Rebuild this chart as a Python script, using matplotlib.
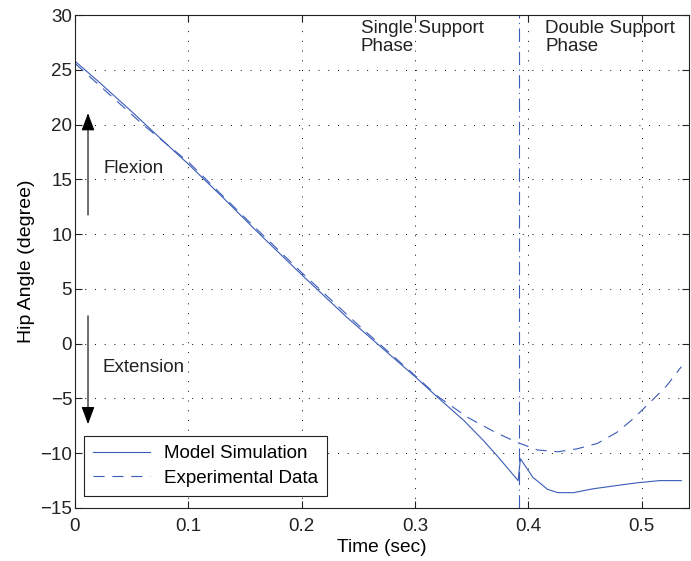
import matplotlib
matplotlib.use("Agg")
import matplotlib.pyplot as plt

plt.rcParams['font.family'] = ['Liberation Sans', 'DejaVu Sans']
plt.rcParams['font.size'] = 13.5

# Model simulation (hip angle, degrees)
t_model = [0.0, 0.02, 0.05, 0.08, 0.10, 0.13, 0.16, 0.20, 0.24, 0.28, 0.30,
           0.32, 0.343, 0.36, 0.373, 0.391, 0.393, 0.404, 0.417, 0.426, 0.44,
           0.457, 0.478, 0.496, 0.516, 0.535]
hip_model = [25.8, 24.0, 21.2, 18.3, 16.4, 13.4, 10.3, 6.3, 2.4, -1.2, -3.0,
             -4.9, -7.0, -8.8, -10.3, -12.5, -10.5, -12.2, -13.3, -13.6, -13.6,
             -13.25, -12.95, -12.7, -12.5, -12.5]

# Experimental data
t_exp = [0.0, 0.03, 0.06, 0.10, 0.15, 0.20, 0.25, 0.30, 0.32, 0.346, 0.371,
         0.39, 0.408, 0.426, 0.443, 0.461, 0.478, 0.492, 0.507, 0.522, 0.535]
hip_exp = [25.6, 22.8, 20.0, 16.6, 11.5, 6.5, 1.7, -2.9, -4.8, -6.7, -8.1,
           -9.0, -9.7, -9.87, -9.6, -9.1, -8.1, -6.9, -5.4, -3.85, -2.1]

phase_switch = 0.392
line_color = '#3a5cb8'

fig = plt.figure(figsize=(6.91, 5.61), dpi=100)
ax = fig.add_axes([0.1085, 0.0945, 0.889, 0.8785])

ax.plot(t_model, hip_model, '-', color=line_color, lw=0.8, label='Model Simulation')
ax.plot(t_exp, hip_exp, '--', color=line_color, lw=0.8, dashes=(10, 7), label='Experimental Data')
ax.axvline(phase_switch, color=line_color, lw=0.8, linestyle=(0, (12, 4, 1, 4)))

ax.set_xlim(0, 0.542)
ax.set_ylim(-15, 30)
ax.set_xticks([0, 0.1, 0.2, 0.3, 0.4, 0.5])
ax.set_xticklabels(['0', '0.1', '0.2', '0.3', '0.4', '0.5'])
ax.set_yticks(range(-15, 31, 5))
ax.set_yticklabels([str(v).replace('-', '\u2212') for v in range(-15, 31, 5)])
ax.tick_params(direction='in', top=True, right=True, length=5, width=0.8,
               colors='#222222')
ax.tick_params(axis='x', pad=7)
ax.tick_params(axis='y', pad=2)
ax.grid(True, linestyle=(0, (1, 9)), color='black', lw=0.7)
for s in ax.spines.values():
    s.set_linewidth(0.8)
    s.set_color('#222222')

ax.set_xlabel('Time (sec)', labelpad=3, fontsize=13.8)
ax.set_ylabel('Hip Angle (degree)', labelpad=4, fontsize=14)

# flexion / extension arrows
arrow = dict(arrowstyle='-|>,head_length=0.8,head_width=0.3', color='black', lw=0.8)
ax.annotate('', xy=(0.0115, 21.3), xytext=(0.0115, 11.5), arrowprops=arrow)
ax.annotate('', xy=(0.0115, -7.6), xytext=(0.0115, 2.8), arrowprops=arrow)
ax.text(0.0255, 16.0, 'Flexion', va='center', ha='left', color='#222222')
ax.text(0.0245, -2.2, 'Extension', va='center', ha='left', color='#222222')

ax.text(0.252, 29.6, 'Single Support\nPhase', va='top', ha='left', color='#222222',
        linespacing=1.15)
ax.text(0.415, 29.6, 'Double Support\nPhase', va='top', ha='left', color='#222222',
        linespacing=1.15)

leg = ax.legend(loc='lower left', bbox_to_anchor=(0.0148, 0.024), handlelength=3.0,
                fancybox=False, framealpha=1, edgecolor='#222222', borderpad=0.5,
                labelspacing=0.4, handletextpad=0.75, borderaxespad=0)
leg.get_frame().set_linewidth(0.8)

fig.savefig('out.png', dpi=100)
